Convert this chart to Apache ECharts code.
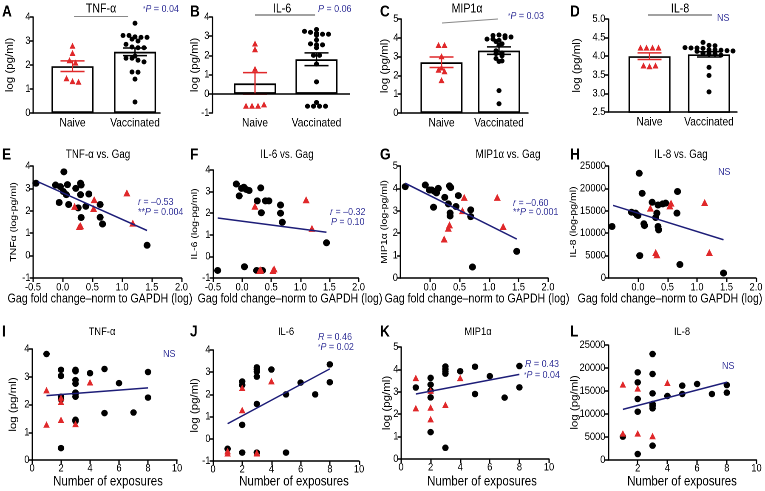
<!DOCTYPE html>
<html><head><meta charset="utf-8">
<script src="https://cdn.jsdelivr.net/npm/echarts@6/dist/echarts.min.js"></script>
<style>
html,body{margin:0;padding:0;background:#fff;overflow:hidden}
#wrap{width:765px;height:491px;overflow:hidden;position:relative}
#c{width:900px;height:491px;transform:scaleX(0.85);transform-origin:0 0}
</style>
</head><body><div id="wrap"><div id="c"></div></div><script>
// ---------- DATA ----------
const categories = ['Naive', 'Vaccinated'];
// A  TNF-α
const naiveA = [2.8, 2.5, 2.2, 2.1, 1.45, 1.33, 1.3];
const vaccA = [3.74, 3.23, 3.23, 3.17, 3.15, 3.15, 3.08, 3.0, 2.86, 2.75, 2.72, 2.72, 2.37, 2.28, 2.28, 2.2, 2.13, 1.71, 1.7, 1.41, 0.46];
const meanA = [1.95, 2.55], semA = [0.22, 0.16];
// B  IL-6
const naiveB = [2.62, 2.32, 1.3, -0.62, -0.62, -0.62, -0.55];
const vaccB = [3.35, 3.25, 3.2, 3.15, 3.1, 3.1, 3.05, 2.8, 2.6, 2.55, 2.55, 2.4, 2.0, 2.0, 1.55, 0.62, -0.45, -0.65, -0.65, -0.65, -0.65];
const meanB = [0.54, 1.8], semB = [0.56, 0.33];
// C  MIP1α
const naiveC = [3.62, 3.62, 3.02, 2.42, 2.3, 2.22, 1.75];
const vaccC = [4.12, 4.15, 3.93, 3.93, 3.16, 3.86, 3.8, 4.0, 3.6, 3.31, 4.11, 4.04, 2.9, 2.77, 3.19, 3.68, 3.04, 2.74, 0.49, 1.19];
const meanC = [2.7, 3.32], semC = [0.28, 0.2];
// D  IL-8
const naiveD = [4.23, 4.23, 4.23, 4.23, 3.75, 3.73, 3.75];
const vaccD = [4.37, 4.29, 4.28, 4.23, 4.22, 4.22, 4.21, 4.17, 4.17, 4.16, 4.15, 4.14, 4.13, 4.08, 4.06, 4.06, 4.03, 3.7, 3.48, 3.04];
const meanD = [4.0, 4.05], semD = [0.09, 0.07];

// E  TNF-α vs Gag
const gagE_v = [-0.45, -0.12, -0.04, -0.06, 0.01, 0.02, 0.06, 0.08, 0.1, 0.22, 0.26, 0.3, 0.31, 0.3, 0.31, 0.39, 0.44, 0.63, 0.63, 0.67, 1.42];
const tnfE_v = [3.23, 3.15, 3.08, 2.37, 2.86, 3.74, 2.72, 3.17, 2.28, 3.0, 2.13, 3.23, 3.15, 2.72, 1.7, 2.2, 2.75, 2.28, 1.71, 1.41, 0.46];
const gagE_n = [0.2, 0.28, 0.3, 0.53, 0.52, 1.08, 1.18];
const tnfE_n = [2.2, 1.3, 1.33, 2.5, 2.1, 2.8, 1.45];
const fitE_x = [-0.42, 1.42], fitE_y = [3.3, 1.12];
// F  IL-6 vs Gag
const gagF_v = [-0.42, -0.1, -0.05, -0.01, 0.03, 0.07, 0.12, 0.04, 0.26, 0.32, 0.33, 0.25, 0.35, 0.4, 0.46, 0.66, 0.66, 0.69, 1.45];
const il6F_v = [-0.65, 3.35, 2.8, 3.15, 3.2, 3.1, 3.05, -0.48, 2.57, 3.17, 2.02, -0.65, -0.65, 2.57, 2.57, 2.38, 2.0, 1.58, 0.63];
const gagF_n = [0.22, 1.1, 1.2, 0.3, 0.32, 0.53, 0.55];
const il6F_n = [2.32, 2.62, 1.3, -0.65, -0.62, -0.65, -0.58];
const fitF_x = [-0.42, 1.45], fitF_y = [1.78, 1.12];
// G  MIP1α vs Gag
const gagG_v = [-0.42, -0.08, -0.01, 0.03, 0.06, 0.08, 0.11, 0.14, 0.25, 0.31, 0.33, 0.35, 0.34, 0.34, 0.44, 0.48, 0.69, 0.69, 0.72, 1.47];
const mipG_v = [4.08, 4.15, 3.93, 3.93, 3.16, 3.86, 3.8, 4.0, 3.6, 3.31, 4.11, 4.04, 2.9, 2.77, 3.19, 3.68, 3.04, 2.74, 0.49, 1.19];
const gagG_n = [0.24, 0.31, 0.33, 0.55, 0.58, 1.14, 1.24];
const mipG_n = [1.74, 2.22, 2.37, 3.01, 3.6, 3.6, 2.3];
const fitG_x = [-0.42, 1.47], fitG_y = [4.23, 1.74];
// H  IL-8 vs Gag
const gagH_v = [-0.44, -0.11, -0.04, -0.02, 0.0, 0.02, 0.07, 0.03, 0.1, 0.11, 0.24, 0.3, 0.32, 0.34, 0.34, 0.35, 0.42, 0.47, 0.67, 0.66, 0.71, 1.45];
const il8H_v = [11500, 14690, 14470, 14100, 13950, 23370, 18900, 5000, 12100, 11700, 16900, 13500, 14470, 16300, 11500, 10750, 16550, 16700, 19300, 14470, 3000, 1100];
const gagH_n = [0.21, 0.3, 0.32, 0.54, 0.56, 1.13, 1.21];
const il8H_n = [15600, 5700, 5200, 16100, 16700, 16840, 5700];
const fitH_x = [-0.42, 1.45], fitH_y = [16200, 8530];

// I  TNF-α vs exposures
const expI_v = [1, 2, 2, 2, 2, 2, 3, 3, 3, 3, 3, 3, 3, 3, 3, 4, 5, 5, 6, 7, 8, 8];
const tnfI_v = [3.82, 3.25, 3.03, 2.28, 2.18, 0.43, 3.25, 3.2, 2.88, 2.75, 2.43, 2.38, 2.28, 1.45, 1.4, 3.13, 3.28, 1.69, 2.77, 1.71, 3.17, 2.25];
const expI_n = [1, 1, 2, 2, 2, 3, 4];
const tnfI_n = [2.52, 1.28, 2.25, 2.1, 1.45, 1.3, 2.8];
const fitI_x = [1, 8], fitI_y = [2.32, 2.6];
// J  IL-6 vs exposures
const expJ_v = [1, 2, 2, 2, 2, 3, 3, 3, 3, 3, 3, 4, 5, 5, 6, 7, 8, 8];
const il6J_v = [-0.45, 2.58, 2.42, 0.63, -0.62, 3.22, 3.12, 3.02, 2.8, 1.57, -0.62, 3.12, 2.0, -0.62, 2.53, 2.0, 3.35, 2.55];
const expJ_n = [1, 1, 2, 2, 3, 3, 4];
const il6J_n = [-0.55, -0.65, 2.3, 1.3, -0.62, -0.65, 2.6];
const fitJ_x = [1, 8], fitJ_y = [0.68, 3.15];
// K  MIP1α vs exposures
const expK_v = [1, 2, 2, 2, 2, 2, 3, 3, 3, 3, 3, 4, 5, 5, 6, 7, 8, 8];
const mipK_v = [3.19, 3.62, 3.32, 3.05, 2.75, 1.2, 4.13, 4.01, 3.91, 3.81, 0.5, 3.92, 4.12, 2.9, 3.7, 2.74, 4.15, 3.2];
const expK_n = [1, 1, 2, 2, 2, 3, 4];
const mipK_n = [3.62, 2.27, 3.05, 2.3, 1.78, 2.42, 3.62];
const fitK_x = [1, 8], fitK_y = [2.9, 3.78];
// L  IL-8 vs exposures
const expL_v = [1, 2, 2, 2, 2, 2, 3, 3, 3, 3, 3, 3, 3, 4, 5, 5, 6, 7, 8, 8];
const il8L_v = [5070, 19060, 16880, 13260, 10500, 1300, 23040, 18700, 14490, 12170, 11740, 11230, 3120, 13910, 16160, 14350, 16520, 14350, 16300, 14640];
const expL_n = [1, 1, 2, 2, 3, 4];
const il8L_n = [16450, 5800, 15580, 5800, 5220, 16800];
const fitL_x = [1, 8], fitL_y = [11000, 16900];

// ---------- BUILD ----------
// The figure is horizontally condensed: the chart is laid out 1/SX wider and squeezed with CSS.
const SX = 0.85;
const X = v => v / SX;
const FONT = '"Liberation Sans", Arial, Helvetica, sans-serif';
const RED = '#e0282a', NAVY = '#1d1d78', TXT = '#3a3a9c';
const grids = [], xAxes = [], yAxes = [], series = [], gfx = [];

function axisCommon() {
  return {
    nameMoveOverlap: false,
    axisLine: { show: true, onZero: false, lineStyle: { color: '#000', width: 1.5 } },
    axisTick: { show: true, length: 4, lineStyle: { color: '#000', width: 1.5 } },
    splitLine: { show: false },
    axisLabel: { color: '#000', fontFamily: FONT, fontSize: 11, margin: 3, formatter: v => String(v) }
  };
}
function addGrid(box, xa, ya) {
  const i = grids.length;
  grids.push({ left: X(box.left), top: box.top, width: X(box.width), height: box.height, containLabel: false });
  xa.gridIndex = i; ya.gridIndex = i; xAxes.push(xa); yAxes.push(ya);
  return i;
}
// beeswarm-like layout: values in the same band are spread symmetrically around the category centre
function swarm(vals, center, binH, step) {
  const bins = new Map();
  vals.forEach(v => { const b = Math.round(v / binH); if (!bins.has(b)) bins.set(b, []); bins.get(b).push(v); });
  const out = [];
  bins.forEach(arr => { const k = arr.length; arr.forEach((v, j) => out.push([center + (j - (k - 1) / 2) * step, v])); });
  return out;
}
// round marks after the horizontal squeeze
const round = d => [d / SX, d];

function barPanel(o) {
  const unit = o.c1 - o.c0;
  const xa = Object.assign(axisCommon(), { type: 'value', min: -(o.c0 - o.left) / unit, max: 1 + (o.right - o.c1) / unit });
  xa.axisTick = { show: false };
  xa.axisLine.show = !o.zeroLine;
  xa.axisLabel = { customValues: [0, 1], formatter: v => categories[Math.round(v)] || '', color: '#000', fontFamily: FONT, fontSize: 12, margin: 4 };
  const ya = Object.assign(axisCommon(), { type: 'value', min: o.ymin, max: o.ymax, interval: o.yint,
    name: 'log (pg/ml)', nameLocation: 'middle', nameGap: X(o.nameGap), nameTextStyle: { fontFamily: FONT, fontSize: 11.5, color: '#000' } });
  if (o.fmt) ya.axisLabel.formatter = o.fmt;
  const i = addGrid({ left: o.left, top: o.top, width: o.right - o.left, height: o.bottom - o.top }, xa, ya);
  const bar = { type: 'bar', xAxisIndex: i, yAxisIndex: i, barWidth: X(o.bw), silent: true, z: 1,
    data: [[0, o.mean[0]], [1, o.mean[1]]], itemStyle: { color: '#fff', borderColor: '#000', borderWidth: 1.7 } };
  if (o.zeroLine) bar.markLine = { silent: true, symbol: 'none', data: [{ yAxis: 0 }], lineStyle: { color: '#000', type: 'solid', width: 1.5 }, label: { show: false } };
  series.push(bar);
  series.push({ type: 'custom', xAxisIndex: i, yAxisIndex: i, z: 3, silent: true, encode: { x: 0, y: 1 },
    data: [[0, o.mean[0], o.sem[0]], [1, o.mean[1], o.sem[1]]],
    renderItem: (p, api) => {
      const x = api.value(0), m = api.value(1), s = api.value(2);
      const t = api.coord([x, m + s]), b = api.coord([x, m - s]), w = X(o.capW) / 2;
      const st = { stroke: x < 0.5 ? RED : '#000', lineWidth: 1.5 };
      return { type: 'group', children: [
        { type: 'line', shape: { x1: t[0], y1: t[1], x2: b[0], y2: b[1] }, style: st },
        { type: 'line', shape: { x1: t[0] - w, y1: t[1], x2: t[0] + w, y2: t[1] }, style: st },
        { type: 'line', shape: { x1: b[0] - w, y1: b[1], x2: b[0] + w, y2: b[1] }, style: st }] };
    } });
  series.push({ type: 'scatter', xAxisIndex: i, yAxisIndex: i, z: 4, silent: true, symbol: 'triangle', symbolSize: round(o.tri),
    itemStyle: { color: RED, opacity: 1 }, data: swarm(o.naive, 0, o.binH, o.step / unit) });
  series.push({ type: 'scatter', xAxisIndex: i, yAxisIndex: i, z: 4, silent: true, symbol: 'circle', symbolSize: round(o.dot),
    itemStyle: { color: '#000', opacity: 1 }, data: swarm(o.vacc, 1, o.binH, o.step / unit) });
}

function scPanel(o) {
  const xa = Object.assign(axisCommon(), { type: 'value', min: o.xmin, max: o.xmax, interval: o.xint });
  xa.axisLabel.formatter = o.xfmt; xa.axisLabel.showMinLabel = o.showMin; xa.axisLabel.margin = o.xm;
  const ya = Object.assign(axisCommon(), { type: 'value', min: o.ymin, max: o.ymax, interval: o.yint,
    name: o.yName, nameLocation: 'middle', nameGap: X(o.nameGap), nameTextStyle: { fontFamily: FONT, fontSize: o.yNameSize, color: '#000' } });
  const i = addGrid({ left: o.left, top: o.top, width: o.width, height: o.height }, xa, ya);
  series.push({ type: 'scatter', xAxisIndex: i, yAxisIndex: i, z: 3, silent: true, symbolSize: round(o.dot), itemStyle: { color: '#000', opacity: 1 },
    data: o.bx.map((x, k) => [x, o.by[k]]) });
  series.push({ type: 'scatter', xAxisIndex: i, yAxisIndex: i, z: 4, silent: true, symbol: 'triangle', symbolSize: round(o.tri), itemStyle: { color: RED, opacity: 1 },
    data: o.rx.map((x, k) => [x, o.ry[k]]) });
  series.push({ type: 'line', xAxisIndex: i, yAxisIndex: i, z: 5, silent: true, symbol: 'none', lineStyle: { color: NAVY, width: 1.5 },
    data: o.fx.map((x, k) => [x, o.fy[k]]) });
}

// Row 1: bar panels
const BAR = { bw: 42, capW: 24, tri: 6, dot: 5, step: 6 };
barPanel(Object.assign({}, BAR, { left: 33, right: 160, top: 17, bottom: 113, c0: 72.5, c1: 135, ymin: 0, ymax: 4, yint: 1, nameGap: 18, binH: 0.2,
  naive: naiveA, vacc: vaccA, mean: meanA, sem: semA }));
barPanel(Object.assign({}, BAR, { left: 212, right: 350, top: 17, bottom: 113, c0: 255, c1: 316.5, ymin: -1, ymax: 4, yint: 1, nameGap: 12, binH: 0.2, zeroLine: true,
  naive: naiveB, vacc: vaccB, mean: meanB, sem: semB }));
barPanel(Object.assign({}, BAR, { left: 401, right: 528, top: 19, bottom: 113, c0: 441.5, c1: 499, ymin: 0, ymax: 5, yint: 1, nameGap: 11, binH: 0.22,
  naive: naiveC, vacc: vaccC, mean: meanC, sem: semC }));
barPanel(Object.assign({}, BAR, { left: 608, right: 737, top: 19, bottom: 112, c0: 649.5, c1: 709, ymin: 2.5, ymax: 5, yint: 0.5, nameGap: 26, binH: 0.12,
  fmt: v => v.toFixed(1), naive: naiveD, vacc: vaccD, mean: meanD, sem: semD }));

// Row 2: vs Gag
const GAG = { xmin: -0.5, xmax: 2, xint: 0.5, xfmt: v => v.toFixed(1), xm: 4, yNameSize: 10.5, dot: 7, tri: 7 };
scPanel(Object.assign({}, GAG, { left: 33, width: 148.5, top: 166, height: 112, ymin: -1, ymax: 4, yint: 1, showMin: true,
  yName: 'TNF\u03b1 (log-pg/ml)', nameGap: 14.5, bx: gagE_v, by: tnfE_v, rx: gagE_n, ry: tnfE_n, fx: fitE_x, fy: fitE_y }));
scPanel(Object.assign({}, GAG, { left: 213, width: 145.5, top: 170, height: 108, ymin: -1, ymax: 4, yint: 1, showMin: true,
  yName: 'IL-6 (log-pg/ml)', nameGap: 13.5, bx: gagF_v, by: il6F_v, rx: gagF_n, ry: il6F_n, fx: fitF_x, fy: fitF_y }));
scPanel(Object.assign({}, GAG, { left: 400.5, width: 147.5, top: 166, height: 112, ymin: 0, ymax: 5, yint: 1, showMin: false,
  yName: 'MIP1\u03b1 (log-pg/ml)', nameGap: 11.5, bx: gagG_v, by: mipG_v, rx: gagG_n, ry: mipG_n, fx: fitG_x, fy: fitG_y }));
scPanel(Object.assign({}, GAG, { left: 608.5, width: 148, top: 166, height: 112, ymin: 0, ymax: 25000, yint: 5000, showMin: false,
  yName: 'IL-8 (log-pg/ml)', nameGap: 30.5, bx: gagH_v, by: il8H_v, rx: gagH_n, ry: il8H_n, fx: fitH_x, fy: fitH_y }));

// Row 3: vs exposures
const EXP = { xmin: 0, xmax: 10, xint: 2, xfmt: v => String(v), xm: 3, yNameSize: 11.5, dot: 6.5, tri: 6.5, yName: 'log (pg/ml)' };
scPanel(Object.assign({}, EXP, { left: 32, width: 145, top: 349, height: 111, ymin: 0, ymax: 4, yint: 1, showMin: true, nameGap: 13.6,
  bx: expI_v, by: tnfI_v, rx: expI_n, ry: tnfI_n, fx: fitI_x, fy: fitI_y }));
scPanel(Object.assign({}, EXP, { left: 213, width: 146, top: 350, height: 111, ymin: -1, ymax: 4, yint: 1, showMin: true, nameGap: 13,
  bx: expJ_v, by: il6J_v, rx: expJ_n, ry: il6J_n, fx: fitJ_x, fy: fitJ_y }));
scPanel(Object.assign({}, EXP, { left: 401, width: 148, top: 347, height: 112, ymin: 0, ymax: 5, yint: 1, showMin: true, nameGap: 9,
  bx: expK_v, by: mipK_v, rx: expK_n, ry: mipK_n, fx: fitK_x, fy: fitK_y }));
scPanel(Object.assign({}, EXP, { left: 608, width: 148.5, top: 345, height: 115, ymin: 0, ymax: 25000, yint: 5000, showMin: false, nameGap: 28,
  bx: expL_v, by: il8L_v, rx: expL_n, ry: il8L_n, fx: fitL_x, fy: fitL_y }));

// ---------- TEXT & DECORATION ----------
function txt(x, y, text, o = {}) {
  const size = o.size || 12;
  const base = { fontFamily: FONT, fontSize: size, fill: o.fill || '#000' };
  gfx.push({ type: 'text', x: X(x), y, silent: true, z: 10, style: Object.assign({}, base, {
    text, fontWeight: o.bold ? 'bold' : 'normal',
    textAlign: o.align || 'center', align: o.align || 'center', textVerticalAlign: 'middle', verticalAlign: 'middle',
    rich: { i: Object.assign({}, base, { fontStyle: 'italic' }), s: Object.assign({}, base, { fontSize: size * 0.7 }) } }) });
}
function seg(x1, y1, x2, y2, c) {
  gfx.push({ type: 'line', silent: true, z: 10, shape: { x1: X(x1), y1, x2: X(x2), y2 }, style: { stroke: c, lineWidth: 1 } });
}
// panel letters
[['A', 2, 12], ['B', 190, 12], ['C', 380, 12], ['D', 570, 12], ['E', 2, 155], ['F', 190, 155], ['G', 380, 155], ['H', 570, 155],
 ['I', 2, 332], ['J', 190, 332], ['K', 380, 332], ['L', 570, 332]].forEach(l => txt(l[1], l[2], l[0], { bold: true, size: 16, align: 'left' }));
// row 1
txt(101, 9, 'TNF-\u03b1', { size: 12.5 }); txt(282, 9, 'IL-6', { size: 12.5 }); txt(467, 9, 'MIP1\u03b1', { size: 12.5 }); txt(680, 9, 'IL-8', { size: 12.5 });
seg(74, 16.5, 128, 16.5, '#888'); seg(255, 15, 315, 15, '#444'); seg(442, 23, 498, 19, '#888'); seg(648, 15, 712, 15, '#444');
txt(143, 9, '{s|*}{i|P} = 0.04', { size: 10.5, fill: TXT, align: 'left' });
txt(318, 9, '{i|P} = 0.06', { size: 10.5, fill: TXT, align: 'left' });
txt(508, 16, '{s|*}{i|P} = 0.03', { size: 10.5, fill: TXT, align: 'left' });
txt(717, 18, 'NS', { size: 10.5, fill: TXT, align: 'left' });
// row 2
txt(98, 155, 'TNF-\u03b1 vs. Gag', { size: 11.5 }); txt(287, 155, 'IL-6 vs. Gag', { size: 11.5 }); txt(508, 155, 'MIP1\u03b1 vs. Gag', { size: 11.5 }); txt(681, 155, 'IL-8 vs. Gag', { size: 11.5 });
const gagTitle = 'Gag fold change\u2013norm to GAPDH (log)';
[100, 290, 477, 670].forEach(cx => txt(cx, 299, gagTitle, { size: 12.5 }));
txt(138, 202, '{i|r} = \u20130.53', { size: 10.5, fill: TXT, align: 'left' });
txt(138, 212, '**{i|P} = 0.004', { size: 10.5, fill: TXT, align: 'left' });
txt(330, 212, '{i|r} = \u20130.32', { size: 10.5, fill: TXT, align: 'left' });
txt(331, 222, '{i|P} = 0.10', { size: 10.5, fill: TXT, align: 'left' });
txt(513, 203, '{i|r} = \u20130.60', { size: 10.5, fill: TXT, align: 'left' });
txt(513, 212, '**{i|P} = 0.001', { size: 10.5, fill: TXT, align: 'left' });
txt(718, 172, 'NS', { size: 10.5, fill: TXT, align: 'left' });
// row 3
txt(102, 332, 'TNF-\u03b1', { size: 11 }); txt(286, 332, 'IL-6', { size: 11 }); txt(478, 332, 'MIP1\u03b1', { size: 11 }); txt(682, 332, 'IL-8', { size: 11 });
[108, 294, 482, 682].forEach(cx => txt(cx, 482, 'Number of exposures', { size: 13.5 }));
txt(163, 354, 'NS', { size: 10.5, fill: TXT, align: 'left' });
txt(318, 337, '{i|R} = 0.46', { size: 10.5, fill: TXT, align: 'left' });
txt(318, 347, '{s|*}{i|P} = 0.02', { size: 10.5, fill: TXT, align: 'left' });
txt(525, 364, '{i|R} = 0.43', { size: 10.5, fill: TXT, align: 'left' });
txt(524, 375, '{s|*}{i|P} = 0.04', { size: 10.5, fill: TXT, align: 'left' });
txt(722, 366, 'NS', { size: 10.5, fill: TXT, align: 'left' });

const chart = echarts.init(document.getElementById('c'), null, { renderer: 'canvas', devicePixelRatio: 2 });
chart.setOption({ backgroundColor: '#fff', animation: false, textStyle: { fontFamily: FONT },
  grid: grids, xAxis: xAxes, yAxis: yAxes, series, graphic: { elements: gfx } });
</script></body></html>
